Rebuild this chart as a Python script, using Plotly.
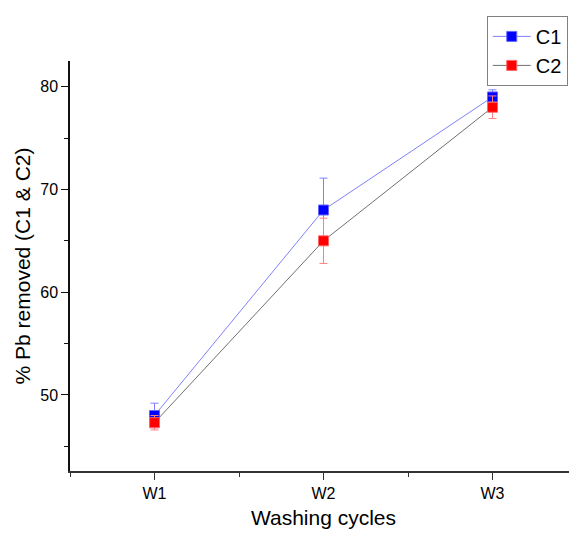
import plotly.graph_objects as go

# washing cycle data
cycles = ["W1", "W2", "W3"]
c1_removed = [48.0, 68.0, 79.0]
c1_err = [1.2, 3.1, 0.7]
c2_removed = [47.3, 65.0, 78.0]
c2_err = [0.7, 2.2, 1.1]

x_pos = list(range(len(cycles)))

fig = go.Figure()
fig.add_trace(
    go.Scatter(
        x=x_pos,
        y=c1_removed,
        name="C1",
        mode="lines+markers",
        line=dict(color="#8080ff", width=1),
        marker=dict(symbol="square", size=10, color="#0000ff",
                    line=dict(color="#6666ff", width=1)),
        error_y=dict(type="data", array=c1_err, color="#8080ff",
                     thickness=1, width=4),
    )
)
fig.add_trace(
    go.Scatter(
        x=x_pos,
        y=c2_removed,
        name="C2",
        mode="lines+markers",
        line=dict(color="#707070", width=1),
        marker=dict(symbol="square", size=10, color="#ff0000",
                    line=dict(color="#ff6666", width=1)),
        error_y=dict(type="data", array=c2_err, color="#ff8080",
                     thickness=1, width=4),
    )
)

# page body adds 8px around the figure, margins account for it
axis_font = dict(family="Liberation Sans, Arial", size=16, color="#000")
fig.update_layout(
    width=577,
    height=533,
    margin=dict(l=62, r=8, t=53, b=70, autoexpand=False),
    paper_bgcolor="white",
    plot_bgcolor="white",
    font=dict(family="Liberation Sans, Arial", color="#000"),
    legend=dict(
        x=0.822, y=1.11, xanchor="left", yanchor="top",
        bordercolor="#808080", borderwidth=1,
        font=dict(size=20), tracegroupgap=0, itemwidth=38,
    ),
    xaxis=dict(
        range=[-0.5, 2.5],
        tickvals=x_pos,
        ticktext=cycles,
        showgrid=False,
        zeroline=False,
        showline=True,
        linecolor="#333",
        linewidth=2,
        ticks="outside",
        ticklen=7,
        tickcolor="#333",
        tickfont=axis_font,
        automargin=False,
        minor=dict(dtick=0.5, tick0=0, ticks="outside", ticklen=4,
                   tickcolor="#333", showgrid=False),
        title=dict(text="Washing cycles", font=dict(size=21), standoff=9),
    ),
    yaxis=dict(
        range=[42.6, 82.5],
        tickvals=[50, 60, 70, 80],
        showgrid=False,
        zeroline=False,
        showline=True,
        linecolor="#111",
        linewidth=1.5,
        ticks="outside",
        ticklen=7,
        tickcolor="#111",
        tickfont=axis_font,
        automargin=False,
        minor=dict(tickvals=[45, 55, 65, 75], ticks="outside", ticklen=4,
                   tickcolor="#111", showgrid=False),
        title=dict(text="% Pb removed (C1 & C2)", font=dict(size=21),
                   standoff=4),
    ),
)

fig.write_html("out.html")
